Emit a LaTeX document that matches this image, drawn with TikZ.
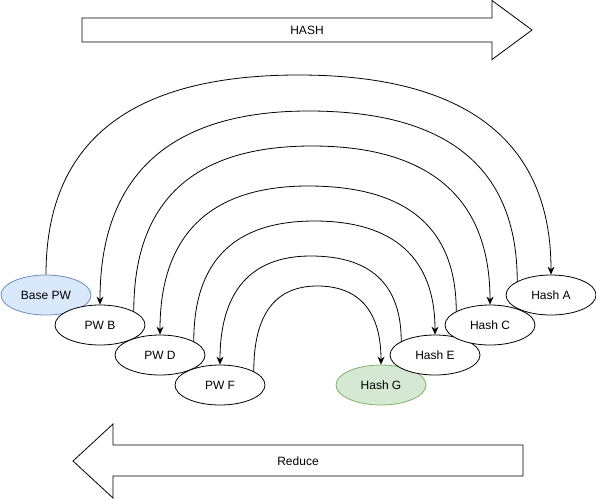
\documentclass[tikz,border=0pt]{standalone}
\usepackage{fontspec}
\setsansfont{Liberation Sans}
\definecolor{pwblue}{HTML}{DAE8FC}
\definecolor{pwbluedraw}{HTML}{6C8EBF}
\definecolor{hashgreen}{HTML}{D5E8D4}
\definecolor{hashgreendraw}{HTML}{82B366}
\tikzset{every picture/.style={/utils/exec={\sffamily}}}
\usetikzlibrary{calc}
\usetikzlibrary{shapes.geometric}
\usetikzlibrary{arrows.meta}

\tikzset{
  blob/.style={draw, ellipse, fill=white, line width=0.8pt, minimum width=90pt, minimum height=40pt, inner sep=0pt},
  link/.style={-{Stealth[length=8pt,width=7pt]}, line width=0.8pt},
  bigarrow/.style={draw, fill=white, line width=0.8pt}
}

% curved hop from one node anchor to another, over a top line at y=#3
\newcommand{\hop}[3]{%
  \path (0,#3) coordinate (top);
  \coordinate (c1) at (#1 |- top);
  \coordinate (c2) at (#2 |- top);
  \coordinate (mid) at ($(c1)!.5!(c2)$);
  \draw [link] (#1) .. controls ($(#1)!2/3!(c1)$) and ($(mid)!2/3!(c1)$) .. (mid)
    .. controls ($(mid)!2/3!(c2)$) and ($(#2)!2/3!(c2)$) .. (#2);
}

\begin{document}
\begin{tikzpicture}[x=1pt, y=-1pt, font=\fontsize{12}{14}\selectfont]
  \useasboundingbox (0,0) rectangle (596,499);

  % block arrows
  \draw [bigarrow] (82,18) -- (492,18) -- (492,0.5) -- (532,30) -- (492,59.5) -- (492,42) -- (82,42) -- cycle;
  \node (hash) at (307,30) {HASH};

  \draw [bigarrow] (523,445) -- (113,445) -- (113,424) -- (73,461) -- (113,498) -- (113,476) -- (523,476) -- cycle;
  \node (reduce) at (298,461) {Reduce};

  % passwords
  \node [blob, fill=pwblue, draw=pwbluedraw] (base) at (46,295) {Base PW};
  \node [blob] (pwb) at (100,325) {PW B};
  \node [blob] (pwd) at (160,355) {PW D};
  \node [blob] (pwf) at (220,385) {PW F};

  % hashes
  \node [blob, fill=hashgreen, draw=hashgreendraw] (hashg) at (381,385) {Hash G};
  \node [blob] (hashe) at (435,355) {Hash E};
  \node [blob] (hashc) at (490,325) {Hash C};
  \node [blob] (hasha) at (551,295) {Hash A};

  % chain
  \hop{base.north}{hasha.north}{75}
  \hop{hasha.158}{pwb.north}{111}
  \hop{pwb.22}{hashc.north}{146}
  \hop{hashc.158}{pwd.north}{186}
  \hop{pwd.22}{hashe.north}{221}
  \hop{hashe.158}{pwf.north}{256}
  \hop{pwf.22}{hashg.north}{286}

\end{tikzpicture}
\end{document}
